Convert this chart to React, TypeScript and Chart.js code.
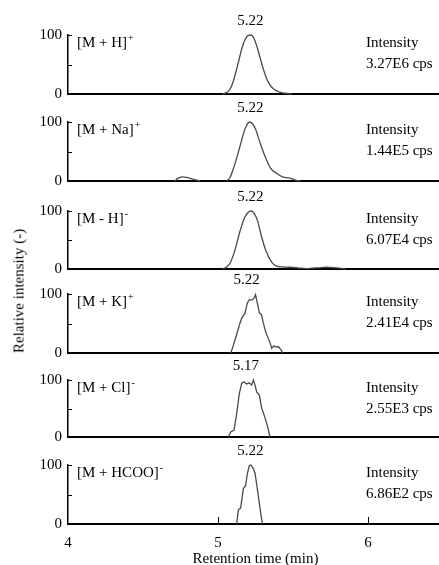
import React, { useEffect, useRef } from "react";
import { Chart, registerables } from "chart.js";

Chart.register(...registerables);

// ---- data ----
const ionMain = ["[M + H]", "[M + Na]", "[M - H]", "[M + K]", "[M + Cl]", "[M + HCOO]"];
const ionSup = ["+", "+", "-", "+", "-", "-"];
const peakLabels = ["5.22", "5.22", "5.22", "5.22", "5.17", "5.22"];
const intensityLabels = ["3.27E6 cps", "1.44E5 cps", "6.07E4 cps", "2.41E4 cps", "2.55E3 cps", "6.86E2 cps"];
const xTickLabels = ["4", "5", "6"];

const timeH = [5.03, 5.06, 5.08, 5.10, 5.12, 5.14, 5.16, 5.18, 5.20, 5.22, 5.24, 5.26, 5.28, 5.30, 5.32, 5.34, 5.36, 5.38, 5.40, 5.43, 5.46, 5.49];
const valH = [0, 3, 8, 20, 38, 58, 78, 92, 99, 100, 94, 80, 62, 44, 29, 18, 11, 7, 4, 2, 1, 0];

const timeNa = [4.71, 4.73, 4.76, 4.79, 4.82, 4.85, 4.88, 4.95, 5.06, 5.08, 5.10, 5.12, 5.15, 5.18, 5.21, 5.23, 5.25, 5.28, 5.31, 5.35, 5.39, 5.43, 5.48, 5.52, 5.55];
const valNa = [0, 4, 7, 6, 4, 2, 0, null, 0, 6, 19, 35, 62, 88, 100, 97, 88, 65, 44, 22, 13, 7, 5, 1, 0];

const timeMH = [5.03, 5.06, 5.08, 5.11, 5.15, 5.18, 5.22, 5.26, 5.29, 5.32, 5.36, 5.39, 5.43, 5.47, 5.53, 5.59, 5.63, 5.67, 5.72, 5.77, 5.81, 5.85];
const valMH = [0, 4, 10, 30, 68, 90, 100, 86, 56, 31, 11, 5, 3.5, 3, 2, 0.5, 1.5, 2, 3, 2.5, 1.5, 0];

const timeK = [5.085, 5.10, 5.124, 5.147, 5.16, 5.18, 5.196, 5.209, 5.229, 5.24, 5.25, 5.26, 5.276, 5.29, 5.302, 5.32, 5.342, 5.358, 5.373, 5.387, 5.402, 5.418, 5.431];
const valK = [0, 11, 31, 51, 60, 68, 85, 90, 90, 93, 99, 87, 68, 65, 51, 34, 21, 8, 12, 10, 11, 6, 0];

const timeCl = [5.069, 5.085, 5.107, 5.124, 5.142, 5.158, 5.173, 5.191, 5.209, 5.224, 5.236, 5.247, 5.258, 5.276, 5.29, 5.313, 5.329, 5.347];
const valCl = [0, 9, 12, 40, 76, 94, 97, 93, 95, 91, 100, 91, 79, 73, 52, 34, 20, 0];

const timeHCOO = [5.124, 5.136, 5.151, 5.169, 5.184, 5.196, 5.209, 5.22, 5.236, 5.247, 5.262, 5.28, 5.296];
const valHCOO = [0, 24, 27, 60, 65, 86, 99, 100, 94, 86, 60, 27, 0];

const seriesTimes = [timeH, timeNa, timeMH, timeK, timeCl, timeHCOO];
const seriesValues = [valH, valNa, valMH, valK, valCl, valHCOO];
const peakLabelX = [5.215, 5.215, 5.215, 5.19, 5.185, 5.215];
const smoothSeries = [true, true, true, false, false, false];

// ---- layout ----
const FONT = "'Liberation Serif', 'Times New Roman', serif";
const panelTop = [35, 122, 211, 294, 380, 465];
const panelZero = [94, 181, 269, 353, 437, 524];
const PAD_TOP = 25;
const PAD_BOTTOM = 12;
const CANVAS_W = 443;
const AXIS_LEFT = 68;
const BOTTOM_AXIS_H = 44;

function Panel({ index }: { index: number }) {
  const ref = useRef<HTMLCanvasElement | null>(null);
  const isBottom = index === 5;
  const plotH = panelZero[index] - panelTop[index];
  const canvasTop = panelTop[index] - PAD_TOP;
  const canvasH = isBottom ? PAD_TOP + plotH + BOTTOM_AXIS_H : PAD_TOP + plotH + PAD_BOTTOM;

  useEffect(() => {
    if (!ref.current) return;
    const pts = seriesTimes[index].map((t, i) => ({ x: t, y: seriesValues[index][i] }));
    const textPlugin = {
      id: "panelText",
      afterDatasetsDraw(chart: any) {
        const ctx = chart.ctx;
        const area = chart.chartArea;
        const xs = chart.scales.x;
        const ys = chart.scales.y;
        ctx.save();
        // inward ticks on y axis
        ctx.strokeStyle = "#000";
        ctx.lineWidth = 1;
        [50, 100].forEach((v) => {
          const y = Math.round(ys.getPixelForValue(v)) + 0.5;
          ctx.beginPath();
          ctx.moveTo(area.left, y);
          ctx.lineTo(area.left + 4, y);
          ctx.stroke();
        });
        if (isBottom) {
          [5, 6].forEach((v) => {
            const x = Math.round(xs.getPixelForValue(v)) + 0.5;
            ctx.beginPath();
            ctx.moveTo(x, area.bottom);
            ctx.lineTo(x, area.bottom - 7);
            ctx.stroke();
          });
        }
        ctx.fillStyle = "#000";
        ctx.textBaseline = "middle";
        // ion label
        ctx.font = `15px ${FONT}`;
        ctx.textAlign = "left";
        const lx = area.left + 9;
        const ly = area.top + 8;
        ctx.fillText(ionMain[index], lx, ly);
        const w = ctx.measureText(ionMain[index]).width;
        ctx.font = `10px ${FONT}`;
        ctx.fillText(ionSup[index], lx + w + 1, ly - 5);
        // peak label
        ctx.font = `15px ${FONT}`;
        ctx.textAlign = "center";
        ctx.fillText(peakLabels[index], xs.getPixelForValue(peakLabelX[index]), area.top - 14);
        // intensity
        ctx.textAlign = "left";
        const ix = xs.getPixelForValue(6) - 2;
        ctx.fillText("Intensity", ix, area.top + 8);
        ctx.fillText(intensityLabels[index], ix, area.top + 29);
        ctx.restore();
      },
    };

    const chart = new Chart(ref.current, {
      type: "line",
      data: {
        datasets: [
          {
            data: pts as any,
            borderColor: "#4a4a4a",
            borderWidth: 1.3,
            pointRadius: 0,
            fill: false,
            spanGaps: false,
            cubicInterpolationMode: smoothSeries[index] ? "monotone" : "default",
            tension: 0,
          },
        ],
      },
      options: {
        responsive: false,
        animation: false,
        devicePixelRatio: 1,
        clip: false as any,
        layout: { padding: { left: 0, right: 0, top: PAD_TOP, bottom: isBottom ? 0 : PAD_BOTTOM } },
        plugins: { legend: { display: false }, tooltip: { enabled: false } },
        scales: {
          x: {
            type: "linear",
            min: 4,
            max: 6.5,
            grid: { display: false, drawTicks: false },
            border: { display: true, color: "#000", width: 2 },
            ticks: {
              display: isBottom,
              stepSize: 1,
              padding: 10,
              color: "#000",
              font: { family: FONT, size: 15 },
              maxRotation: 0,
              autoSkip: false,
              callback: (v: any) => {
                const s = String(v);
                return xTickLabels.includes(s) ? s : "";
              },
            },
            title: {
              display: isBottom,
              text: "Retention time (min)",
              color: "#000",
              font: { family: FONT, size: 15 },
              padding: { top: 0, bottom: 0 },
            },
            afterFit: (s: any) => {
              s.height = isBottom ? BOTTOM_AXIS_H : 0;
              s.paddingLeft = 0;
              s.paddingRight = 0;
            },
          },
          y: {
            min: 0,
            max: 100,
            grid: { display: false, drawTicks: false },
            border: { display: true, color: "#000", width: 1.5 },
            ticks: {
              stepSize: 50,
              padding: 6,
              color: "#000",
              font: { family: FONT, size: 15 },
              callback: (v: any) => (v === 50 ? "" : String(v)),
            },
            afterFit: (s: any) => {
              s.width = AXIS_LEFT;
              s.paddingTop = 0;
              s.paddingBottom = 0;
            },
          },
        },
      },
      plugins: [textPlugin],
    });
    return () => chart.destroy();
  }, [index]);

  return (
    <canvas
      ref={ref}
      width={CANVAS_W}
      height={canvasH}
      style={{ position: "absolute", left: 0, top: canvasTop, width: CANVAS_W, height: canvasH }}
    />
  );
}

export default function App() {
  return (
    <div
      style={{
        position: "absolute",
        left: 0,
        top: 0,
        width: 439,
        height: 565,
        overflow: "hidden",
        background: "#fff",
      }}
    >
      {[0, 1, 2, 3, 4, 5].map((i) => (
        <Panel key={i} index={i} />
      ))}
      <div
        style={{
          position: "absolute",
          left: 19,
          top: 291,
          transform: "translate(-50%, -50%) rotate(-90deg)",
          whiteSpace: "nowrap",
          fontFamily: FONT,
          fontSize: 15,
          color: "#000",
        }}
      >
        Relative intensity (-)
      </div>
    </div>
  );
}
